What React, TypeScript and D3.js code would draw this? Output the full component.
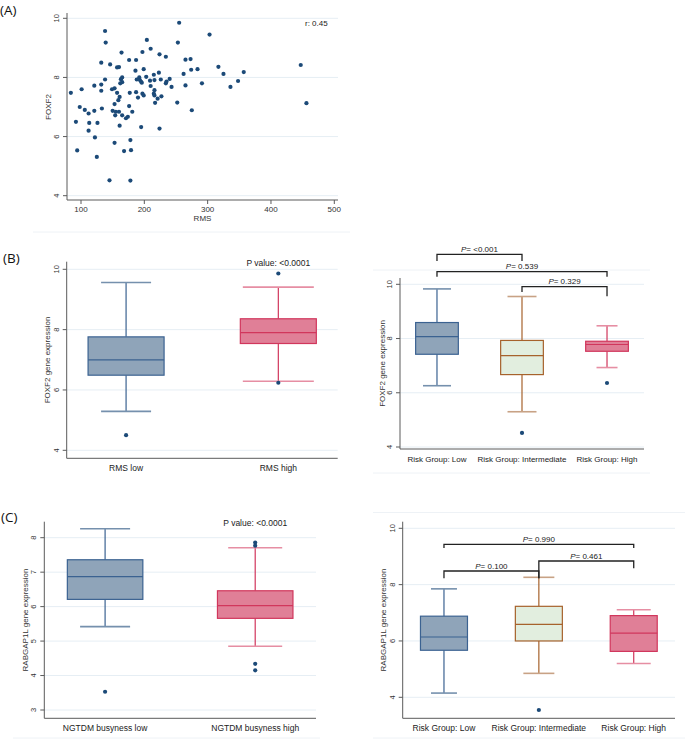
import React from "react";
import * as d3 from "d3";

// (A) scatter: RMS vs FOXF2
const rmsValues = [
  84, 92, 94, 98, 101, 106, 112, 113, 112, 121, 121, 122, 126, 125, 132, 132, 132, 133,
  138, 139, 138, 146, 145, 149, 150, 153, 153, 154, 153, 155, 157, 157, 160, 159, 160,
  161, 161, 162, 163, 164, 165, 165, 165, 168, 171, 174, 176, 176, 177, 178, 178, 179,
  181, 186, 187, 188, 187, 190, 192, 193, 195, 196, 195, 197, 199, 197, 199, 203, 204,
  210, 209, 210, 215, 216, 216, 215, 216, 217, 221, 223, 224, 226, 227, 224, 234, 234,
  235, 240, 243, 253, 252, 255, 262, 265, 265, 273, 274, 275, 284, 291, 303, 317, 325,
  336, 348, 357, 447, 456,
];
const foxf2Values = [
  7.48, 6.5, 5.53, 7.0, 7.6, 6.9, 6.78, 6.46, 6.2, 7.72, 6.87, 5.97, 6.46, 5.31, 8.5, 7.76,
  7.55, 6.95, 9.57, 9.18, 7.93, 8.44, 4.52, 7.6, 6.87, 7.63, 7.1, 6.72, 5.79, 6.84, 7.48,
  8.34, 8.35, 7.23, 6.84, 6.37, 7.34, 7.8, 7.94, 8.84, 8.0, 7.84, 6.72, 5.51, 6.62, 6.67,
  8.59, 7.03, 7.48, 5.88, 4.51, 5.54, 6.84, 8.23, 8.59, 7.93, 7.5, 7.32, 8.0, 7.91, 7.85,
  7.82, 6.32, 8.86, 8.28, 7.45, 7.39, 8.02, 9.27, 8.97, 7.89, 7.71, 8.09, 7.91, 7.57, 7.45,
  7.39, 7.14, 7.28, 8.16, 8.78, 7.93, 7.36, 6.27, 7.8, 8.7, 7.86, 7.95, 7.68, 9.18, 7.15,
  9.85, 8.12, 7.73, 8.6, 8.62, 8.26, 6.89, 8.28, 7.8, 9.45, 8.36, 8.12, 7.68, 7.88, 8.18,
  8.42, 7.13,
];
const rmsTicks = [100, 200, 300, 400, 500];
const foxf2Ticks = [4, 6, 8, 10];

// (B) FOXF2 by RMS group and by risk group — [min, q1, median, q3, max]
const rmsGroups = ["RMS low", "RMS high"];
const rmsStats = [
  [5.29, 6.49, 7.0, 7.76, 9.56],
  [6.29, 7.54, 7.9, 8.36, 9.41],
];
const rmsOutliers = [[4.5], [9.86, 6.24]];

const riskGroups = ["Risk Group: Low", "Risk Group: Intermediate", "Risk Group: High"];
const foxf2RiskStats = [
  [6.26, 7.42, 8.07, 8.59, 9.83],
  [5.3, 6.67, 7.37, 7.93, 9.55],
  [6.93, 7.53, 7.78, 7.9, 8.47],
];
const foxf2RiskOutliers = [[], [4.52], [6.36]];
const foxf2RiskP = ["<0.001", "0.539", "0.329"];

// (C) RABGAP1L by NGTDM busyness and by risk group
const busyGroups = ["NGTDM busyness low", "NGTDM busyness high"];
const busyStats = [
  [5.42, 6.21, 6.87, 7.36, 8.26],
  [4.85, 5.66, 6.03, 6.46, 7.71],
];
const busyOutliers = [[3.53], [7.86, 7.77, 4.34, 4.15]];
const rabTicks = [3, 4, 5, 6, 7, 8];

const rabRiskStats = [
  [4.15, 5.67, 6.14, 6.88, 7.85],
  [4.85, 6.0, 6.59, 7.23, 8.26],
  [5.2, 5.63, 6.28, 6.9, 7.11],
];
const rabRiskOutliers = [[], [3.55], []];
const rabRiskP = ["0.990", "0.100", "0.461"];

const FONT = "'Liberation Sans', Arial, sans-serif";
const AXIS = "#5a5a5a";
const GRID = "#e6eef4";
const DOT = "#1c4a78";

const blue = { fill: "#8fa4b9", stroke: "#3b6291", cap: "#7590ad" };
const pink = { fill: "#e07f97", stroke: "#d1365c", cap: "#e68ea3" };
const green = { fill: "#e2eedf", stroke: "#a6622c", cap: "#c8a285" };

type Bracket = { from: number; to: number; yH: number; d1: number; d2: number; label: string };

type BoxProps = {
  groups: string[];
  stats: number[][];
  outliers: number[][];
  colors: { fill: string; stroke: string; cap: string }[];
  x0: number;
  x1: number;
  pad: number;
  top: number;
  bottom: number;
  ticks: number[];
  tickPos: [number, number];
  boxW: number;
  capW: number[];
  yTitle: string;
  titleX: number;
  pText?: string;
  brackets?: Bracket[];
  labelSize: number;
};

function BoxPanel(p: BoxProps) {
  const x = d3.scalePoint<string>().domain(p.groups).range([p.x0, p.x1]).padding(p.pad);
  const y = d3
    .scaleLinear()
    .domain([p.ticks[0], p.ticks[p.ticks.length - 1]])
    .range(p.tickPos);
  return (
    <g fontFamily={FONT}>
      {p.ticks.map((t) => (
        <g key={t}>
          <line x1={p.x0} x2={p.x1} y1={y(t)} y2={y(t)} stroke={GRID} strokeWidth={1} />
          <line x1={p.x0 - 4} x2={p.x0} y1={y(t)} y2={y(t)} stroke={AXIS} />
          <text
            transform={`translate(${p.x0 - 8},${y(t)}) rotate(-90)`}
            textAnchor="middle"
            fontSize={7.5}
            fill="#333"
          >
            {t}
          </text>
        </g>
      ))}
      <line x1={p.x0} x2={p.x0} y1={p.top} y2={p.bottom} stroke={AXIS} />
      <line x1={p.x0} x2={p.x1} y1={p.bottom} y2={p.bottom} stroke={AXIS} />
      {p.groups.map((g, i) => {
        const [mn, q1, md, q3, mx] = p.stats[i];
        const cx = x(g) as number;
        const c = p.colors[i];
        const hw = p.boxW / 2;
        const cw = p.capW[i] / 2;
        return (
          <g key={g}>
            <line x1={cx} x2={cx} y1={y(mx)} y2={y(q3)} stroke={c.stroke} strokeWidth={1.2} />
            <line x1={cx} x2={cx} y1={y(q1)} y2={y(mn)} stroke={c.stroke} strokeWidth={1.2} />
            <line x1={cx - cw} x2={cx + cw} y1={y(mx)} y2={y(mx)} stroke={c.cap} strokeWidth={1.6} />
            <line x1={cx - cw} x2={cx + cw} y1={y(mn)} y2={y(mn)} stroke={c.cap} strokeWidth={1.6} />
            <rect
              x={cx - hw}
              y={y(q3)}
              width={p.boxW}
              height={y(q1) - y(q3)}
              fill={c.fill}
              stroke={c.stroke}
              strokeWidth={1.2}
            />
            <line x1={cx - hw} x2={cx + hw} y1={y(md)} y2={y(md)} stroke={c.stroke} strokeWidth={1.2} />
            {p.outliers[i].map((o, k) => (
              <circle key={k} cx={cx} cy={y(o)} r={2.1} fill={DOT} />
            ))}
            <text x={cx} y={p.bottom + 12.5} textAnchor="middle" fontSize={p.labelSize} fill="#222">
              {g}
            </text>
          </g>
        );
      })}
      <text
        transform={`translate(${p.titleX},${(p.top + p.bottom) / 2}) rotate(-90)`}
        textAnchor="middle"
        fontSize={8}
        fill="#333"
      >
        {p.yTitle}
      </text>
      {p.pText && (
        <text
          x={x(p.groups[1]) as number}
          y={p.top + 4}
          textAnchor="middle"
          fontSize={8.5}
          fill="#222"
        >
          {`P value: ${p.pText}`}
        </text>
      )}
      {(p.brackets || []).map((b, i) => {
        const xa = x(p.groups[b.from]) as number;
        const xb = x(p.groups[b.to]) as number;
        return (
          <g key={i}>
            <path
              d={`M${xa},${b.d1}V${b.yH}H${xb}V${b.d2}`}
              fill="none"
              stroke="#222"
              strokeWidth={1.3}
            />
            <text x={(xa + xb) / 2} y={b.yH - 2.5} textAnchor="middle" fontSize={8} fill="#222">
              <tspan fontStyle="italic">P</tspan>
              {`= ${b.label}`}
            </text>
          </g>
        );
      })}
    </g>
  );
}

function Scatter() {
  const x0 = 67, x1 = 338, top = 13, bottom = 200;
  const x = d3.scaleLinear().domain([100, 500]).range([81, 334.3]);
  const y = d3.scaleLinear().domain([4, 10]).range([195.7, 18.3]);
  return (
    <g fontFamily={FONT}>
      {foxf2Ticks.map((t) => (
        <g key={t}>
          <line x1={x0} x2={x1} y1={y(t)} y2={y(t)} stroke={GRID} />
          <line x1={x0 - 4} x2={x0} y1={y(t)} y2={y(t)} stroke={AXIS} />
          <text
            transform={`translate(${x0 - 8},${y(t)}) rotate(-90)`}
            textAnchor="middle"
            fontSize={7.5}
            fill="#333"
          >
            {t}
          </text>
        </g>
      ))}
      {rmsTicks.map((t) => (
        <g key={t}>
          <line x1={x(t)} x2={x(t)} y1={bottom} y2={bottom + 4} stroke={AXIS} />
          <text x={x(t)} y={bottom + 11.5} textAnchor="middle" fontSize={8} fill="#333">
            {t}
          </text>
        </g>
      ))}
      <line x1={x0} x2={x0} y1={top} y2={bottom} stroke={AXIS} />
      <line x1={x0} x2={x1} y1={bottom} y2={bottom} stroke={AXIS} />
      {rmsValues.map((v, i) => (
        <circle key={i} cx={x(v)} cy={y(foxf2Values[i])} r={2.1} fill={DOT} />
      ))}
      <text x={(x0 + x1) / 2} y={220.5} textAnchor="middle" fontSize={8} fill="#333">
        RMS
      </text>
      <text transform={`translate(51,107) rotate(-90)`} textAnchor="middle" fontSize={8} fill="#333">
        FOXF2
      </text>
      <text x={305} y={26} fontSize={8} fill="#222">
        r: 0.45
      </text>
    </g>
  );
}

export default function App() {
  const faint = "#eef2f6";
  return (
    <svg
      width={685}
      height={741}
      style={{ position: "absolute", left: 0, top: 0, background: "#fff" }}
    >
      <rect width={685} height={741} fill="#fff" />
      <g stroke={faint} strokeWidth={1}>
        <line x1={33} x2={350} y1={232} y2={232} />
        <line x1={373} x2={650} y1={270} y2={270} />
        <line x1={373} x2={650} y1={473} y2={473} />
        <line x1={373} x2={685} y1={512.5} y2={512.5} />
        <line x1={13} x2={320} y1={738} y2={738} />
        <line x1={373} x2={685} y1={738} y2={738} />
      </g>
      <g fontFamily="'Open Sans', sans-serif" fontSize={13.5} fill="#111">
        <text x={0} y={15}>(A)</text>
        <text x={3} y={263}>(B)</text>
        <text x={1} y={522}>(C)</text>
      </g>
      <Scatter />
      <BoxPanel
        groups={rmsGroups}
        stats={rmsStats}
        outliers={rmsOutliers}
        colors={[blue, pink]}
        x0={66.7}
        x1={337.7}
        pad={0.39}
        top={261.7}
        bottom={458.3}
        ticks={foxf2Ticks}
        tickPos={[450.3, 269.3]}
        boxW={76}
        capW={[50, 71]}
        yTitle="FOXF2 gene expression"
        titleX={50}
        pText="<0.0001"
        labelSize={8.5}
      />
      <BoxPanel
        groups={riskGroups}
        stats={foxf2RiskStats}
        outliers={foxf2RiskOutliers}
        colors={[blue, green, pink]}
        x0={400}
        x1={644}
        pad={0.435}
        top={278}
        bottom={449}
        ticks={foxf2Ticks}
        tickPos={[447, 284.3]}
        boxW={42.7}
        capW={[28, 29, 21]}
        yTitle="FOXF2 gene expression"
        titleX={384.5}
        labelSize={8}
        brackets={[
          { from: 0, to: 1, yH: 254.3, d1: 261, d2: 261, label: foxf2RiskP[0] },
          { from: 0, to: 2, yH: 271.7, d1: 276.7, d2: 276.7, label: foxf2RiskP[1] },
          { from: 1, to: 2, yH: 286.7, d1: 292, d2: 296.3, label: foxf2RiskP[2] },
        ]}
      />
      <BoxPanel
        groups={busyGroups}
        stats={busyStats}
        outliers={busyOutliers}
        colors={[blue, pink]}
        x0={44.3}
        x1={316}
        pad={0.405}
        top={521.7}
        bottom={718.3}
        ticks={rabTicks}
        tickPos={[710, 537.7]}
        boxW={75.5}
        capW={[50, 54]}
        yTitle="RABGAP1L gene expression"
        titleX={28}
        pText="<0.0001"
        labelSize={8.5}
      />
      <BoxPanel
        groups={riskGroups}
        stats={rabRiskStats}
        outliers={rabRiskOutliers}
        colors={[blue, green, pink]}
        x0={402.7}
        x1={675}
        pad={0.435}
        top={521.7}
        bottom={718.3}
        ticks={foxf2Ticks}
        tickPos={[697.3, 528.3]}
        boxW={47}
        capW={[26, 31, 34]}
        yTitle="RABGAP1L gene expression"
        titleX={386}
        labelSize={8.5}
        brackets={[
          { from: 0, to: 2, yH: 544.3, d1: 548, d2: 548, label: rabRiskP[0] },
          { from: 0, to: 1, yH: 571, d1: 578.3, d2: 578.3, label: rabRiskP[1] },
          { from: 1, to: 2, yH: 561, d1: 578.3, d2: 568.3, label: rabRiskP[2] },
        ]}
      />
    </svg>
  );
}
